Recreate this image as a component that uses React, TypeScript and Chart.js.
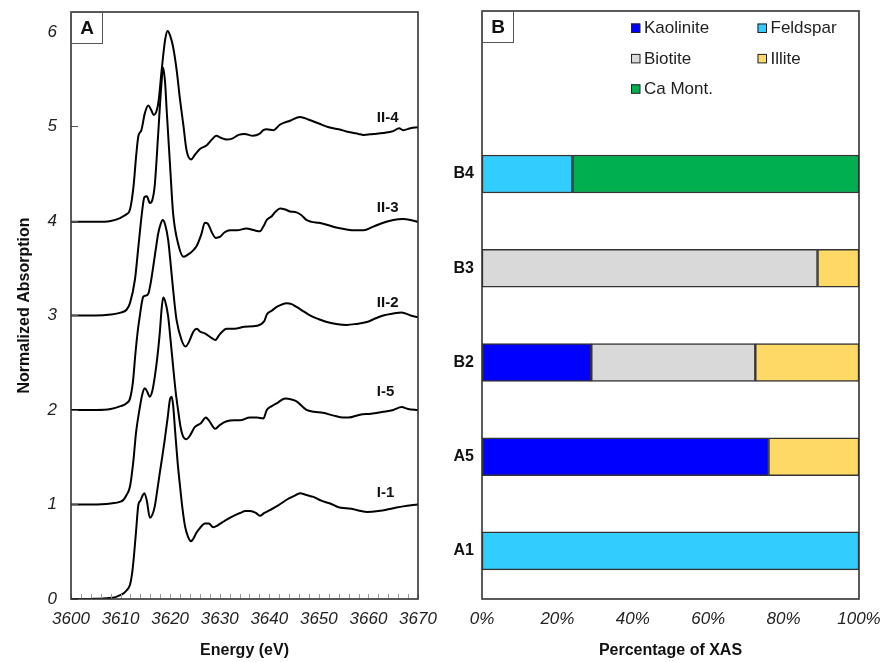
import React, { useEffect, useRef } from 'react';
import { Chart, registerables } from 'chart.js';

Chart.register(...registerables);

const FONT = "'Liberation Sans', Arial, Helvetica, sans-serif";

// ---------------- Panel A data: [energy (eV), normalized absorption incl. offset] ----------------
const specI1: [number, number][] = [
  [3600, 0], [3603, 0], [3605, 0.003], [3607.2, 0.008], [3609, 0.02], [3609.9, 0.04], [3610.6, 0.06],
  [3611.2, 0.09], [3611.9, 0.15], [3612.3, 0.26], [3612.6, 0.4], [3613.1, 0.7], [3613.6, 1.0], [3614, 1.04],
  [3614.4, 1.09], [3614.8, 1.12], [3615.3, 1.04], [3615.9, 0.86], [3616.4, 0.89], [3616.9, 0.98],
  [3617.4, 1.15], [3617.9, 1.33], [3618.4, 1.5], [3618.9, 1.68], [3619.5, 1.92], [3620, 2.12], [3620.3, 2.14],
  [3620.6, 2.05], [3621, 1.78], [3621.5, 1.45], [3622, 1.19], [3622.5, 0.95], [3623, 0.77], [3623.6, 0.66],
  [3624.2, 0.61], [3624.7, 0.64], [3625.3, 0.7], [3626, 0.75], [3627, 0.8], [3627.8, 0.8], [3628.7, 0.76],
  [3629.6, 0.78], [3630.5, 0.81], [3631.4, 0.84], [3632.8, 0.88], [3634.1, 0.91], [3635.2, 0.93],
  [3636.1, 0.93], [3637.3, 0.91], [3638.1, 0.88], [3639, 0.91], [3640.1, 0.94], [3641.8, 0.99],
  [3643.5, 1.05], [3645, 1.09], [3646.2, 1.12], [3647.5, 1.1], [3648.9, 1.08], [3650.5, 1.04],
  [3652.3, 1.01], [3654, 0.97], [3655.5, 0.96], [3657, 0.95], [3658.5, 0.93], [3659.7, 0.92], [3662, 0.93],
  [3665, 0.96], [3667, 0.98], [3670, 1.0],
];

const specI5: [number, number][] = [
  [3600, 1], [3604, 1.0], [3608, 1.01], [3610, 1.03], [3610.6, 1.05], [3611.2, 1.1], [3611.9, 1.19],
  [3612.6, 1.47], [3613.1, 1.75], [3613.8, 2.0], [3614.4, 2.17], [3614.9, 2.23], [3615.4, 2.19],
  [3615.9, 2.14], [3616.4, 2.2], [3616.9, 2.35], [3617.4, 2.55], [3617.9, 2.81], [3618.3, 3.08],
  [3618.6, 3.19], [3619, 3.15], [3619.6, 2.99], [3620.1, 2.73], [3620.6, 2.46], [3621.1, 2.2], [3621.6, 2.0],
  [3622.1, 1.82], [3622.6, 1.72], [3623.3, 1.69], [3624, 1.73], [3625, 1.82], [3626.2, 1.86], [3627.2, 1.92],
  [3627.8, 1.89], [3629.1, 1.8], [3630, 1.84], [3631.4, 1.88], [3633, 1.89], [3634.1, 1.89], [3636.1, 1.92],
  [3637.5, 1.92], [3638.8, 1.91], [3639.5, 2.0], [3640.5, 2.04], [3641.5, 2.07], [3643.2, 2.12],
  [3644.5, 2.11], [3645.5, 2.09], [3647.5, 2.0], [3649, 1.98], [3650.8, 1.97], [3653, 1.94], [3654.9, 1.92],
  [3656, 1.92], [3658.3, 1.95], [3660.5, 1.96], [3663, 1.98], [3665, 2.0], [3666.7, 2.03], [3668, 2.01],
  [3670, 2.0],
];

const specII2: [number, number][] = [
  [3600, 2.0], [3605, 2.0], [3608, 2.01], [3610, 2.04], [3611.2, 2.07], [3611.9, 2.12], [3612.5, 2.3],
  [3613, 2.6], [3613.5, 2.85], [3613.9, 3.0], [3614.3, 3.14], [3614.6, 3.2], [3615.1, 3.21], [3615.6, 3.23],
  [3616.1, 3.35], [3616.6, 3.52], [3617.1, 3.7], [3617.6, 3.87], [3618.1, 3.97], [3618.5, 4.01],
  [3619, 3.96], [3619.6, 3.8], [3620, 3.6], [3620.4, 3.38], [3620.9, 3.12], [3621.3, 2.95], [3622.3, 2.74],
  [3623.1, 2.67], [3623.8, 2.72], [3624.7, 2.83], [3625.4, 2.86], [3626, 2.83], [3627, 2.81], [3628.4, 2.76],
  [3629.1, 2.74], [3630, 2.8], [3631.4, 2.86], [3633, 2.86], [3635, 2.88], [3637.5, 2.89], [3639, 2.94],
  [3639.5, 3.01], [3640.5, 3.05], [3641.5, 3.09], [3643.5, 3.13], [3644.5, 3.12], [3645.5, 3.09],
  [3647, 3.04], [3648.2, 3.0], [3650, 2.96], [3651.6, 2.93], [3653.5, 2.91], [3655.6, 2.9], [3657.5, 2.91],
  [3659.7, 2.93], [3661.5, 2.97], [3663, 3.0], [3665, 3.02], [3666.7, 3.03], [3668.5, 3.0], [3670, 2.98],
];

const specII3: [number, number][] = [
  [3600, 3.0], [3605, 3.0], [3608, 3.01], [3610, 3.03], [3611.2, 3.06], [3611.9, 3.13], [3612.9, 3.38],
  [3613.6, 3.73], [3614.3, 4.08], [3614.8, 4.25], [3615.3, 4.26], [3615.9, 4.19], [3616.4, 4.22],
  [3616.9, 4.38], [3617.6, 4.93], [3618.2, 5.42], [3618.6, 5.62], [3619, 5.45], [3619.3, 5.17], [3620, 4.57],
  [3620.6, 4.08], [3621.6, 3.76], [3622.7, 3.62], [3623.5, 3.64], [3624.5, 3.68], [3625.4, 3.74],
  [3626.3, 3.86], [3627, 3.98], [3627.6, 3.97], [3628.4, 3.88], [3629.2, 3.82], [3630, 3.83], [3631, 3.88],
  [3632.1, 3.9], [3633.5, 3.9], [3635.4, 3.92], [3637, 3.9], [3638.1, 3.89], [3638.8, 3.94], [3639.5, 4.01],
  [3640.5, 4.05], [3641.3, 4.1], [3642.2, 4.13], [3643.2, 4.12], [3644.2, 4.1], [3645.5, 4.09],
  [3646.5, 4.06], [3647.5, 4.01], [3648.5, 3.99], [3650, 3.98], [3651.6, 3.96], [3653.5, 3.93],
  [3655.6, 3.91], [3657, 3.9], [3659, 3.9], [3661, 3.94], [3663, 3.98], [3665, 4.01], [3667, 4.02],
  [3668.5, 4.01], [3670, 3.99],
];

const specII4: [number, number][] = [
  [3600, 3.99], [3605, 3.99], [3608, 4.0], [3609.9, 4.03], [3610.6, 4.05], [3611.2, 4.07], [3611.9, 4.12],
  [3612.6, 4.36], [3613.2, 4.72], [3613.6, 4.9], [3614.2, 4.96], [3614.9, 5.14], [3615.6, 5.22],
  [3616.2, 5.17], [3616.7, 5.12], [3617.3, 5.17], [3617.7, 5.28], [3618.3, 5.6], [3619, 5.92],
  [3619.5, 6.01], [3620, 5.96], [3620.6, 5.84], [3621.3, 5.6], [3622, 5.28], [3622.7, 5.0], [3623.3, 4.75],
  [3624.2, 4.65], [3625, 4.7], [3626, 4.76], [3627.4, 4.8], [3628.4, 4.86], [3629.3, 4.9], [3630.2, 4.88],
  [3631.4, 4.86], [3632.5, 4.87], [3633.8, 4.91], [3635, 4.92], [3636.7, 4.9], [3638, 4.92], [3638.8, 4.96],
  [3639.5, 4.97], [3640.8, 4.96], [3642.2, 5.02], [3644.2, 5.06], [3646.2, 5.1], [3648, 5.07], [3650, 5.03],
  [3652, 4.99], [3654, 4.97], [3656, 4.94], [3658, 4.92], [3659, 4.91], [3661, 4.92], [3663, 4.93],
  [3665, 4.95], [3666.2, 4.98], [3667, 4.96], [3668.5, 4.98], [3670, 4.99],
];

const spectraNames = ['I-1', 'I-5', 'II-2', 'II-3', 'II-4'];
const spectraSeries = [specI1, specI5, specII2, specII3, specII4];
const spectraLabelE = 3661.7;
const spectraLabelY = [1.12, 2.19, 3.13, 4.14, 5.09];
const energyMin = 3600;
const energyMax = 3670;
const energyStep = 2;
const energyLabelStep = 10;
const absTicks = [0, 1, 2, 3, 4, 5, 6];
const absMax = 6.21;

// ---------------- Panel B data: percentage of XAS ----------------
const sampleNames = ['A1', 'A5', 'B2', 'B3', 'B4'];
const samplePos = [1, 2, 3, 4, 5];
const kaolinite = [null, 76, 29, null, null];
const feldspar = [100, null, null, null, 24];
const biotite = [null, null, 43.5, 89, null];
const illite = [null, 24, 27.5, 11, null];
const caMont = [null, null, null, null, 76];
const mineralNames = ['Kaolinite', 'Feldspar', 'Biotite', 'Illite', 'Ca Mont.'];
const mineralColors = ['#0000FF', '#33CCFF', '#D9D9D9', '#FFD966', '#00B050'];
const mineralValues = [kaolinite, feldspar, biotite, illite, caMont];
const pctTicks = [0, 20, 40, 60, 80, 100];

function noPad(s: any) {
  s.paddingLeft = 0;
  s.paddingRight = 0;
  s.paddingTop = 0;
  s.paddingBottom = 0;
}

function drawPanelLetter(ctx: CanvasRenderingContext2D, a: any, letter: string) {
  ctx.save();
  ctx.fillStyle = '#fff';
  ctx.fillRect(a.left, a.top, 31, 31);
  ctx.strokeStyle = '#555';
  ctx.lineWidth = 1;
  ctx.strokeRect(a.left + 0.5, a.top + 0.5, 31, 31);
  ctx.fillStyle = '#111';
  ctx.font = `bold 19px ${FONT}`;
  ctx.textAlign = 'center';
  ctx.textBaseline = 'middle';
  ctx.fillText(letter, a.left + 16, a.top + 16.5);
  ctx.restore();
}

function drawFrame(ctx: CanvasRenderingContext2D, a: any) {
  ctx.save();
  ctx.strokeStyle = '#333';
  ctx.lineWidth = 1.6;
  ctx.strokeRect(a.left, a.top, a.right - a.left, a.bottom - a.top);
  ctx.restore();
}

const panelAPlugin = {
  id: 'panelA',
  afterDraw(chart: any) {
    const { ctx, chartArea: a, scales } = chart;
    ctx.save();
    ctx.strokeStyle = '#999';
    ctx.lineWidth = 1;
    scales.x.ticks.forEach((t: any) => {
      const px = Math.round(scales.x.getPixelForValue(t.value)) + 0.5;
      ctx.beginPath();
      ctx.moveTo(px, a.bottom);
      ctx.lineTo(px, a.bottom - 5);
      ctx.stroke();
    });
    ctx.strokeStyle = '#555';
    scales.y.ticks.forEach((t: any) => {
      const py = Math.round(scales.y.getPixelForValue(t.value)) + 0.5;
      ctx.beginPath();
      ctx.moveTo(a.left, py);
      ctx.lineTo(a.left + 7, py);
      ctx.stroke();
    });
    ctx.restore();
    drawFrame(ctx, a);
    drawPanelLetter(ctx, a, 'A');
    ctx.save();
    ctx.fillStyle = '#111';
    ctx.font = `bold 15px ${FONT}`;
    ctx.textAlign = 'left';
    ctx.textBaseline = 'middle';
    spectraNames.forEach((n, i) => {
      ctx.fillText(n, scales.x.getPixelForValue(spectraLabelE), scales.y.getPixelForValue(spectraLabelY[i]));
    });
    ctx.restore();
  },
};

const panelBPlugin = {
  id: 'panelB',
  afterDraw(chart: any) {
    const { ctx, chartArea: a } = chart;
    drawFrame(ctx, a);
    drawPanelLetter(ctx, a, 'B');
    ctx.save();
    ctx.font = `17px ${FONT}`;
    ctx.textAlign = 'left';
    ctx.textBaseline = 'middle';
    chart.data.datasets.forEach((ds: any, i: number) => {
      const col = i % 2;
      const row = Math.floor(i / 2);
      const bx = a.left + 149 + col * 126.5;
      const cy = a.top + 17 + row * 30.4;
      ctx.fillStyle = ds.backgroundColor;
      ctx.fillRect(bx, cy - 4.5, 9, 9);
      ctx.strokeStyle = '#222';
      ctx.lineWidth = 1;
      ctx.strokeRect(bx + 0.5, cy - 4.5 + 0.5, 8.5, 8.5);
      ctx.fillStyle = '#222';
      ctx.fillText(ds.label, bx + 13, cy + 0.5);
    });
    ctx.restore();
  },
};

export default function App() {
  const refA = useRef<HTMLCanvasElement>(null);
  const refB = useRef<HTMLCanvasElement>(null);

  useEffect(() => {
    const tickFont = { family: FONT, size: 17, style: 'italic' as const };
    const titleFont = { family: FONT, size: 16, weight: 'bold' as const, lineHeight: 1.2 };

    const chartA = new Chart(refA.current!, {
      type: 'line',
      data: {
        datasets: spectraSeries.map((s, i) => ({
          label: spectraNames[i],
          data: s.map(([x, y]) => ({ x, y })),
          borderColor: '#000',
          borderWidth: 2,
          pointRadius: 0,
          fill: false,
          cubicInterpolationMode: 'monotone' as const,
        })),
      },
      options: {
        responsive: false,
        animation: false,
        layout: { padding: { top: 12, right: 25, left: 0, bottom: 0 } },
        plugins: { legend: { display: false }, tooltip: { enabled: false } },
        scales: {
          x: {
            type: 'linear',
            min: energyMin,
            max: energyMax,
            grid: { display: false, drawTicks: false },
            border: { display: false },
            afterBuildTicks: (s: any) => {
              const t = [];
              for (let v = energyMin; v <= energyMax; v += energyStep) t.push({ value: v });
              s.ticks = t;
            },
            afterFit: (s: any) => { s.height = 63; noPad(s); },
            ticks: {
              autoSkip: false,
              maxRotation: 0,
              padding: 10,
              color: '#222',
              font: tickFont,
              callback: (v: any) => (Number(v) % energyLabelStep === 0 ? String(v) : ''),
            },
            title: { display: true, text: 'Energy (eV)', color: '#111', font: titleFont, padding: { top: 0, bottom: 2 } },
          },
          y: {
            type: 'linear',
            min: 0,
            max: absMax,
            grid: { display: false, drawTicks: false },
            border: { display: false },
            afterBuildTicks: (s: any) => { s.ticks = absTicks.map((v) => ({ value: v })); },
            afterFit: (s: any) => { s.width = 71; noPad(s); },
            ticks: { padding: 14, color: '#222', font: tickFont, callback: (v: any) => String(v) },
            title: { display: true, text: 'Normalized Absorption', color: '#111', font: titleFont, padding: { top: 15, bottom: 0 } },
          },
        },
      },
      plugins: [panelAPlugin],
    });

    const chartB = new Chart(refB.current!, {
      type: 'bar',
      data: {
        datasets: mineralNames.map((n, i) => ({
          label: n,
          data: samplePos
            .map((p, j) => ({ x: mineralValues[i][j] as any, y: p }))
            .filter((d) => d.x !== null),
          backgroundColor: mineralColors[i],
          borderColor: '#333',
          borderWidth: 1.5,
          borderSkipped: false,
          barThickness: 38,
        })),
      },
      options: {
        indexAxis: 'y',
        responsive: false,
        animation: false,
        layout: { padding: { top: 11, right: 27, left: 0, bottom: 0 } },
        plugins: { legend: { display: false }, tooltip: { enabled: false } },
        scales: {
          x: {
            type: 'linear',
            stacked: true,
            min: 0,
            max: 100,
            grid: { display: false, drawTicks: false },
            border: { display: false },
            afterBuildTicks: (s: any) => { s.ticks = pctTicks.map((v) => ({ value: v })); },
            afterFit: (s: any) => { s.height = 63; noPad(s); },
            ticks: { padding: 10, color: '#222', font: tickFont, maxRotation: 0, autoSkip: false, callback: (v: any) => `${v}%` },
            title: { display: true, text: 'Percentage of XAS', color: '#111', font: titleFont, padding: { top: 0, bottom: 2 } },
          },
          y: {
            type: 'linear',
            stacked: true,
            offset: false,
            grid: { display: false, drawTicks: false, offset: false },
            min: 0.49,
            max: 6.73,
            border: { display: false },
            afterBuildTicks: (s: any) => { s.ticks = samplePos.map((v) => ({ value: v })); },
            afterFit: (s: any) => { s.width = 39; noPad(s); },
            ticks: {
              padding: 8,
              color: '#111',
              font: { family: FONT, size: 16, weight: 'bold' as const },
              callback: (v: any) => sampleNames[samplePos.indexOf(Number(v))] ?? '',
            },
          },
        },
      },
      plugins: [panelBPlugin],
    });

    return () => {
      chartA.destroy();
      chartB.destroy();
    };
  }, []);

  return (
    <div style={{ position: 'absolute', left: 0, top: 0, width: 886, height: 662, background: '#fff' }}>
      <canvas ref={refA} width={443} height={662} style={{ position: 'absolute', left: 0, top: 0 }} />
      <canvas ref={refB} width={443} height={662} style={{ position: 'absolute', left: 443, top: 0 }} />
    </div>
  );
}
